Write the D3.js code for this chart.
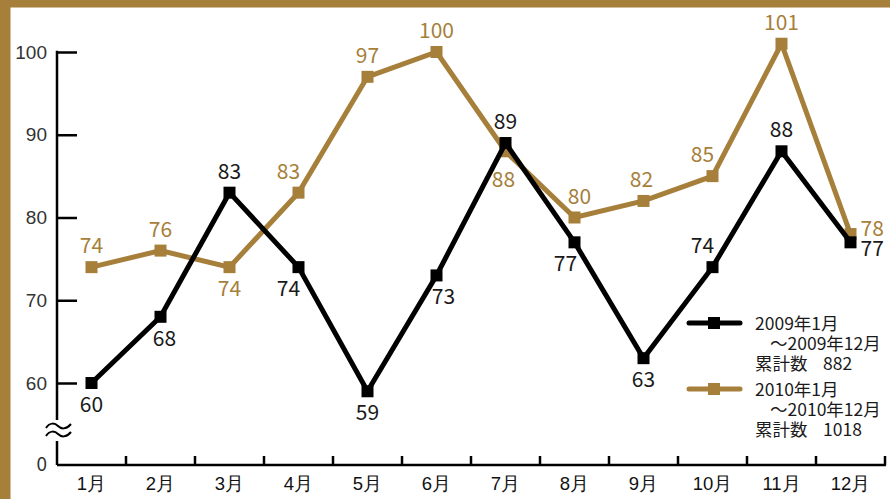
<!DOCTYPE html>
<html><head><meta charset="utf-8">
<script src="https://cdn.jsdelivr.net/npm/d3@7"></script>
<style>
html,body{margin:0;padding:0;background:#fff;}
svg{display:block;font-family:"Noto Sans CJK JP","Noto Sans",sans-serif;}
</style></head>
<body>
<svg id="c" width="890" height="499"></svg>
<script>
const months = ["1月","2月","3月","4月","5月","6月","7月","8月","9月","10月","11月","12月"];
const series2009 = [60,68,83,74,59,73,89,77,63,74,88,77];
const series2010 = [74,76,74,83,97,100,88,80,82,85,101,78];
const yTicks = [60,70,80,90,100];
const legend2009 = ["2009年1月","～2009年12月","累計数","882"];
const legend2010 = ["2010年1月","～2010年12月","累計数","1018"];
// label placement: a=above, b=below, bb=further below, r=right ; with horizontal nudge
const place2009 = [["b",0],["b",4],["a",0],["b",-10],["b",0],["b",7],["a",0],["b",-9],["b",0],["a",-10],["a",0],["r",0]];
const place2010 = [["a",0],["a",0],["b",0],["a",-10],["a",0],["a",0],["bb",-2],["a",5],["a",-2],["a",-10],["a",0],["r2",0]];

const BROWN = "#a67f3b", BLACK = "#000";
const svg = d3.select("#c");

// frame
svg.append("rect").attr("x",0).attr("y",0).attr("width",890).attr("height",7.5).attr("fill",BROWN);
svg.append("rect").attr("x",0).attr("y",0).attr("width",10.5).attr("height",499).attr("fill",BROWN);

const x = d3.scaleBand().domain(months).range([57,885]);
const y = d3.scaleLinear().domain([60,100]).range([383,52]);
const yBase = 465;

// y axis
const yAxis = d3.axisLeft(y).tickValues(yTicks).tickSizeInner(-20).tickSizeOuter(0).tickPadding(10);
const gy = svg.append("g").attr("transform","translate(57,0)").call(yAxis);
gy.select(".domain").remove();
gy.selectAll(".tick line").attr("stroke","#000").attr("stroke-width",2.5);
gy.selectAll(".tick text").attr("fill","#333").attr("font-size",19).attr("font-family","inherit");
// zero label
svg.append("text").attr("x",47).attr("y",yBase).attr("dy","0.32em").attr("text-anchor","end")
  .attr("fill","#333").attr("font-size",19).text("0");
// vertical axis with break
svg.append("line").attr("x1",57).attr("x2",57).attr("y1",y(100)-1.2).attr("y2",420).attr("stroke","#000").attr("stroke-width",2.5);
svg.append("line").attr("x1",57).attr("x2",57).attr("y1",441).attr("y2",yBase).attr("stroke","#000").attr("stroke-width",2.5);
[426,434].forEach(yy=>{
  svg.append("path")
    .attr("d",`M46,${yy+2} C50,${yy-4} 55,${yy-3} 58,${yy} C61,${yy+3} 66,${yy+4} 71,${yy-2}`)
    .attr("fill","none").attr("stroke","#000").attr("stroke-width",2);
});

// x axis
svg.append("line").attr("x1",57).attr("x2",886).attr("y1",yBase).attr("y2",yBase).attr("stroke","#000").attr("stroke-width",2.5);
const xAxis = d3.axisBottom(x).tickSize(0).tickPadding(12);
const gx = svg.append("g").attr("transform",`translate(0,${yBase})`).call(xAxis);
gx.select(".domain").remove();
gx.selectAll(".tick text").attr("fill","#111").attr("font-size",18.5).attr("font-family","inherit");
months.forEach((m,i)=>{
  const bx = x(m)+x.bandwidth();
  svg.append("line").attr("x1",bx).attr("x2",bx).attr("y1",yBase).attr("y2",yBase-9).attr("stroke","#000").attr("stroke-width",2.5);
});

const line = d3.line().x((d,i)=>x(months[i])+x.bandwidth()/2).y(d=>y(d));

function drawSeries(data, color){
  const g = svg.append("g");
  g.append("path").datum(data).attr("d",line).attr("fill","none").attr("stroke",color)
    .attr("stroke-width",5).attr("stroke-linejoin","miter");
  g.selectAll("rect").data(data).join("rect")
    .attr("x",(d,i)=>x(months[i])+x.bandwidth()/2-6).attr("y",d=>y(d)-6)
    .attr("width",12).attr("height",12).attr("fill",color);
  return g;
}
function drawLabels(data, place, labelColor){
  svg.append("g").selectAll("text").data(data).join("text")
    .attr("x",(d,i)=>{
      const cx = x(months[i])+x.bandwidth()/2;
      const p = place[i];
      if(p[0][0]==="r") return cx+10;
      return cx+p[1];
    })
    .attr("y",(d,i)=>{
      const cy = y(d); const p = place[i][0];
      if(p==="a") return cy-14;
      if(p==="b") return cy+29;
      if(p==="bb") return cy+36;
      if(p==="r") return cy+14;
      if(p==="r2") return cy+2;
    })
    .attr("text-anchor",(d,i)=>place[i][0][0]==="r"?"start":"middle")
    .attr("fill",labelColor).attr("font-size",21).text(d=>d);
}
drawSeries(series2010, BROWN);
drawSeries(series2009, BLACK);
drawLabels(series2010, place2010, BROWN);
drawLabels(series2009, place2009, "#1a1a1a");

// legend
function legendBlock(items, color, ly){
  svg.append("line").attr("x1",689).attr("x2",740).attr("y1",ly).attr("y2",ly)
    .attr("stroke",color).attr("stroke-width",5).attr("stroke-linecap","round");
  svg.append("rect").attr("x",708).attr("y",ly-6).attr("width",12).attr("height",12).attr("fill",color);
  const t = svg.append("g").attr("fill","#1a1a1a").attr("font-size",17.5);
  t.append("text").attr("x",755).attr("y",ly+7).text(items[0]);
  t.append("text").attr("x",770).attr("y",ly+27).text(items[1]);
  t.append("text").attr("x",755).attr("y",ly+47).text(items[2]);
  t.append("text").attr("x",823).attr("y",ly+47).text(items[3]);
}
legendBlock(legend2009, BLACK, 323);
legendBlock(legend2010, BROWN, 389);
</script>
</body></html>
